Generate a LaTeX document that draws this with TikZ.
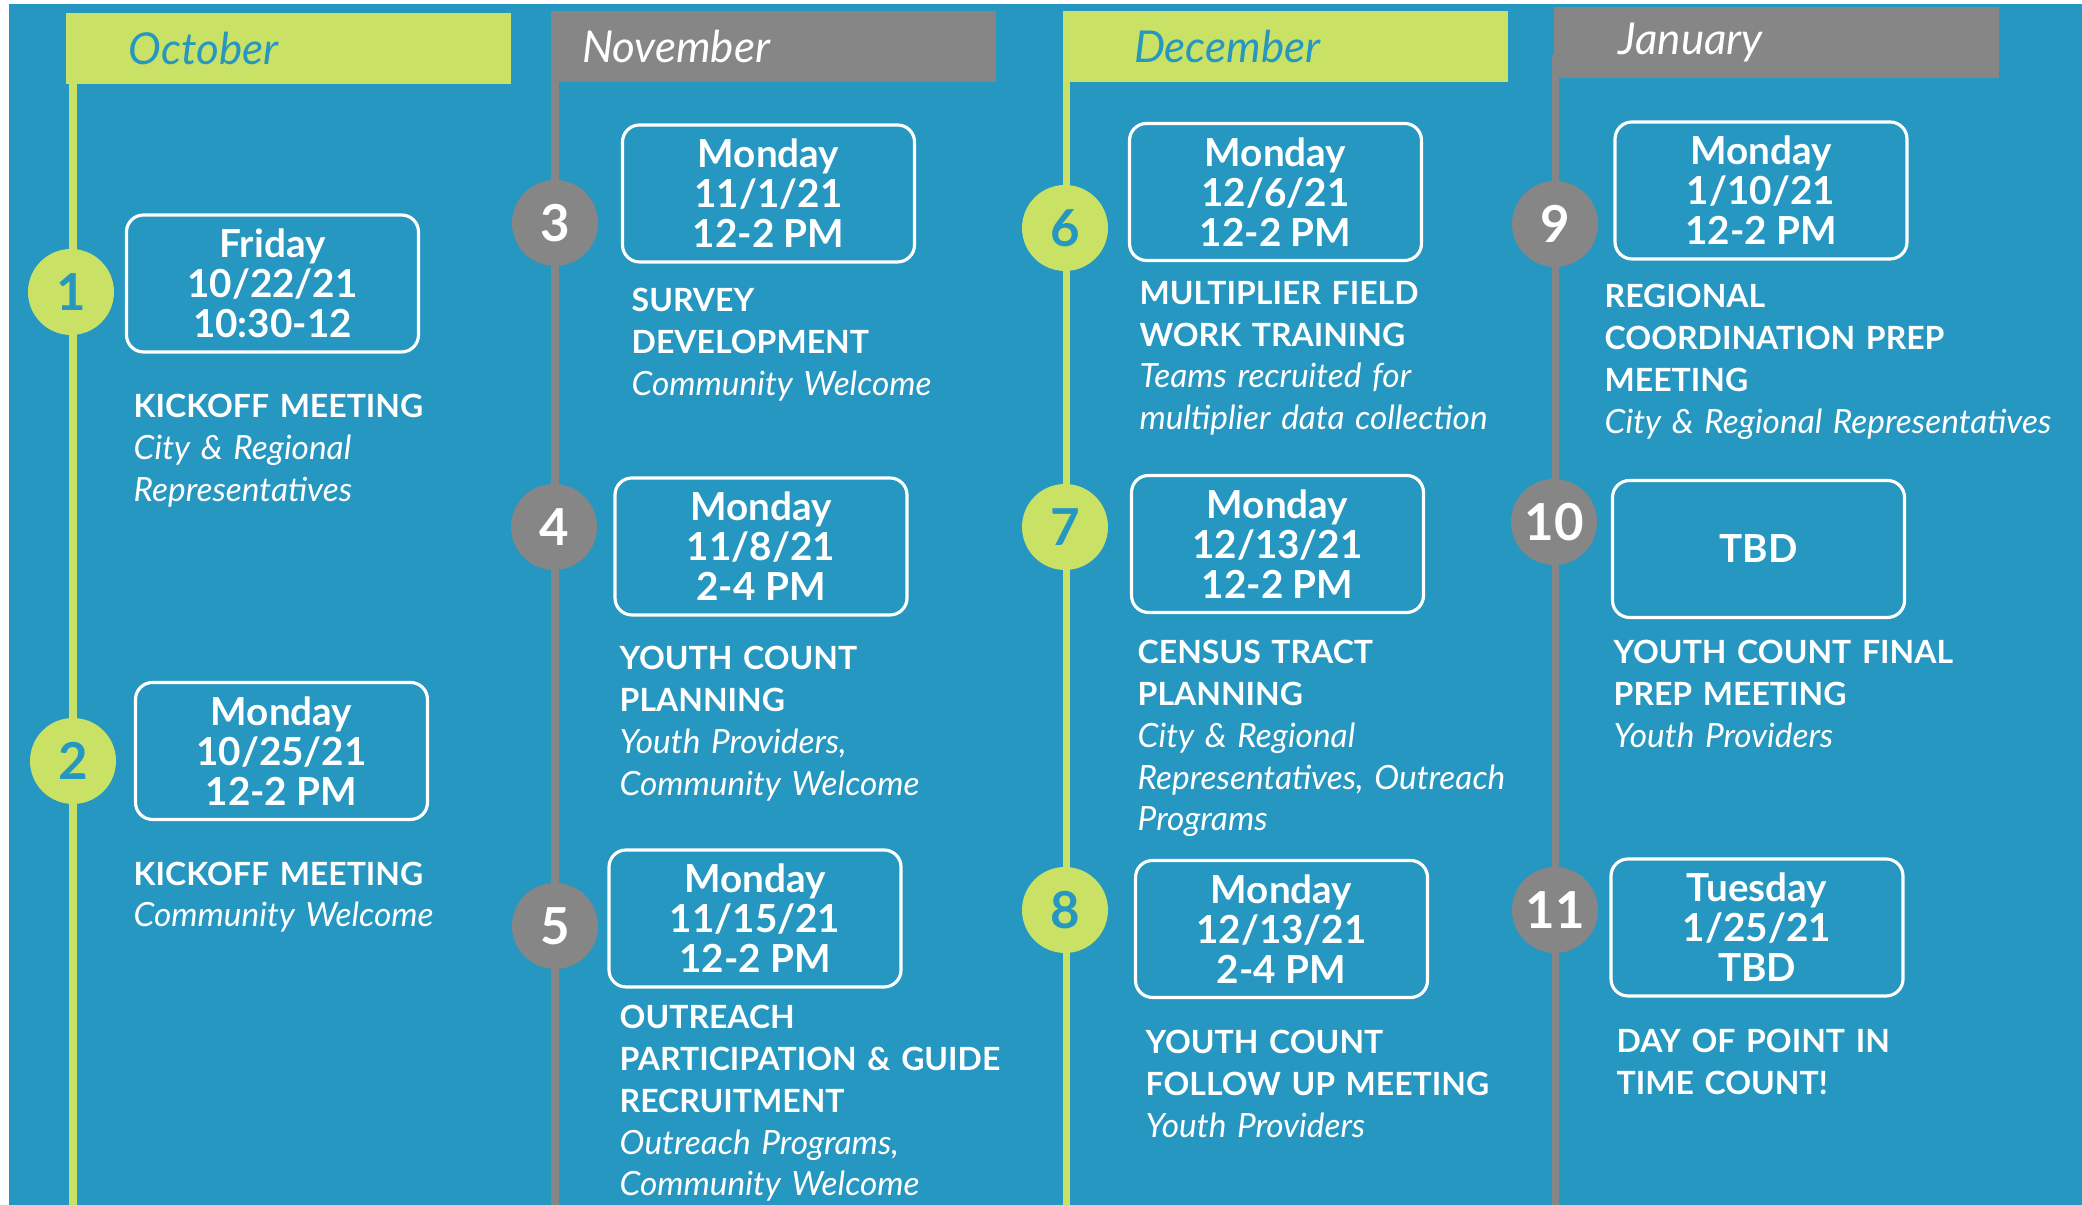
\documentclass[tikz,border=0pt]{standalone}
\usepackage{fontspec}
\setmainfont{Lato}
\definecolor{bg}{RGB}{38,151,192}
\definecolor{hlgreen}{RGB}{201,226,101}
\definecolor{midgray}{RGB}{133,134,133}
\tikzstyle{hdr}=[rectangle,minimum width=4.45cm,minimum height=.71cm,inner sep=0pt]
\tikzstyle{mon}=[anchor=west,inner sep=0pt,font=\fontsize{12.5}{14}\selectfont\itshape]
\tikzstyle{gdot}=[circle,fill=hlgreen,text=bg,minimum size=.86cm,inner sep=0pt,font=\fontsize{14.5}{18}\selectfont\bfseries]
\tikzstyle{kdot}=[circle,fill=midgray,text=white,minimum size=.86cm,inner sep=0pt,font=\fontsize{14.5}{18}\selectfont\bfseries]
\tikzstyle{day}=[draw=white,line width=.9pt,rounded corners=.17cm,minimum width=2.92cm,minimum height=1.37cm,inner sep=0pt,align=center,text=white,font=\fontsize{11}{11.4}\selectfont\bfseries]
\tikzstyle{ev}=[anchor=north west,text width=5cm,align=left,inner sep=0pt,text=white,font=\fontsize{9.1}{11.9}\selectfont]
\tikzstyle{gline}=[hlgreen,line width=2pt]
\tikzstyle{kline}=[midgray,line width=2pt]
\newcommand{\ttl}[1]{{\bfseries #1}}
\newcommand{\who}[1]{{\fontsize{9.5}{11.9}\selectfont\itshape #1}}

\begin{document}
\begin{tikzpicture}
\useasboundingbox (0,0) rectangle (20.82,12.05);
\fill[bg] (0.09,0) rectangle (20.82,12.01);
% timelines
\coordinate (oTop) at (0.73,11.5); \coordinate (oBot) at (0.73,0);
\coordinate (nTop) at (5.55,11.5); \coordinate (nBot) at (5.55,0);
\coordinate (dTop) at (10.66,11.5); \coordinate (dBot) at (10.66,0);
\coordinate (jTop) at (15.55,11.5); \coordinate (jBot) at (15.55,0);
\draw[gline] (oTop) -- (oBot);
\draw[kline] (nTop) -- (nBot);
\draw[gline] (dTop) -- (dBot);
\draw[kline] (jTop) -- (jBot);
% months
\node[hdr,fill=hlgreen] (hOct) at (2.88,11.565) {};
\node[hdr,fill=midgray] (hNov) at (7.735,11.585) {};
\node[hdr,fill=hlgreen] (hDec) at (12.855,11.585) {};
\node[hdr,fill=midgray] (hJan) at (17.76,11.625) {};
\node[mon,text=bg] (lOct) at ([xshift=.63cm]hOct.west) {October};
\node[mon,text=white] (lNov) at ([xshift=.31cm]hNov.west) {November};
\node[mon,text=bg] (lDec) at ([xshift=.71cm]hDec.west) {December};
\node[mon,text=white] (lJan) at ([xshift=.65cm]hJan.west) {January};
% steps
\node[gdot] (c1) at (0.71,9.13) {1};
\node[gdot] (c2) at (0.73,4.44) {2};
\node[kdot] (c3) at (5.55,9.82) {3};
\node[kdot] (c4) at (5.54,6.78) {4};
\node[kdot] (c5) at (5.55,2.79) {5};
\node[gdot] (c6) at (10.65,9.77) {6};
\node[gdot] (c7) at (10.65,6.78) {7};
\node[gdot] (c8) at (10.65,2.95) {8};
\node[kdot] (c9) at (15.55,9.81) {9};
\node[kdot] (c10) at (15.54,6.83) {10};
\node[kdot] (c11) at (15.55,2.95) {11};
% dates
\node[day] (b1) at (2.725,9.215) {Friday\\10/22/21\\10:30-12};
\node[day] (b2) at (2.815,4.54) {Monday\\10/25/21\\12-2 PM};
\node[day] (b3) at (7.685,10.115) {Monday\\11/1/21\\12-2 PM};
\node[day] (b4) at (7.61,6.585) {Monday\\11/8/21\\2-4 PM};
\node[day] (b5) at (7.55,2.865) {Monday\\11/15/21\\12-2 PM};
\node[day] (b6) at (12.755,10.13) {Monday\\12/6/21\\12-2 PM};
\node[day] (b7) at (12.775,6.61) {Monday\\12/13/21\\12-2 PM};
\node[day] (b8) at (12.815,2.76) {Monday\\12/13/21\\2-4 PM};
\node[day] (b9) at (17.61,10.145) {Monday\\1/10/21\\12-2 PM};
\node[day] (b10) at (17.585,6.56) {TBD};
\node[day] (b11) at (17.57,2.775) {Tuesday\\1/25/21\\TBD};
% meetings
\node[ev] (t1) at (1.33,8.115) {\ttl{KICKOFF MEETING}\\\who{City \& Regional}\\\who{Representatives}};
\node[ev] (t2) at (1.33,3.44) {\ttl{KICKOFF MEETING}\\\who{Community Welcome}};
\node[ev] (t3) at (6.31,9.175) {\ttl{SURVEY}\\\ttl{DEVELOPMENT}\\\who{Community Welcome}};
\node[ev] (t4) at (6.19,5.595) {\ttl{YOUTH COUNT}\\\ttl{PLANNING}\\\who{Youth Providers,}\\\who{Community Welcome}};
\node[ev] (t5) at (6.19,2.005) {\ttl{OUTREACH}\\\ttl{PARTICIPATION \& GUIDE}\\\ttl{RECRUITMENT}\\\who{Outreach Programs,}\\\who{Community Welcome}};
\node[ev] (t6) at (11.39,9.245) {\ttl{MULTIPLIER FIELD}\\\ttl{WORK TRAINING}\\\who{Teams recruited for}\\\who{multiplier data collection}};
\node[ev] (t7) at (11.37,5.655) {\ttl{CENSUS TRACT}\\\ttl{PLANNING}\\\who{City \& Regional}\\\who{Representatives, Outreach}\\\who{Programs}};
\node[ev] (t8) at (11.45,1.755) {\ttl{YOUTH COUNT}\\\ttl{FOLLOW UP MEETING}\\\who{Youth Providers}};
\node[ev] (t9) at (16.04,9.215) {\ttl{REGIONAL}\\\ttl{COORDINATION PREP}\\\ttl{MEETING}\\\who{City \& Regional Representatives}};
\node[ev] (t10) at (16.13,5.655) {\ttl{YOUTH COUNT FINAL}\\\ttl{PREP MEETING}\\\who{Youth Providers}};
\node[ev] (t11) at (16.16,1.765) {\ttl{DAY OF POINT IN}\\\ttl{TIME COUNT!}};
\end{tikzpicture}
\end{document}
